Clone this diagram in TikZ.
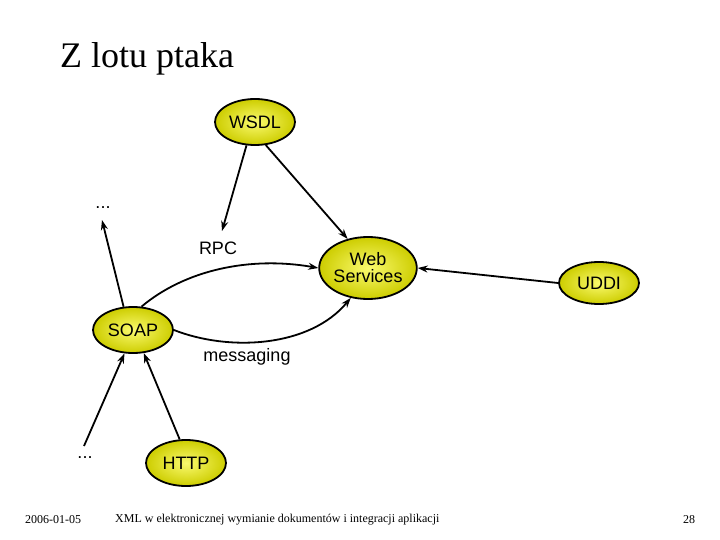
\documentclass[tikz,border=0pt]{standalone}
\usepackage{fontspec}
\setmainfont{Liberation Serif}
\setsansfont{Liberation Sans}
\usetikzlibrary{shapes.geometric,arrows.meta}
\tikzset{
  ell/.style={ellipse,draw=black,line width=1.8pt,inner sep=0pt,
    inner color={rgb,255:red,250;green,250;blue,110},
    outer color={rgb,255:red,205;green,205;blue,0},
    font=\sffamily\fontsize{18}{19}\selectfont,align=center},
  lbl/.style={font=\sffamily\fontsize{18}{19}\selectfont,inner sep=1pt},
  con/.style={line width=1.8pt,-{Stealth[length=10pt,width=7pt]}},
  foot/.style={font=\fontsize{12}{14}\selectfont,anchor=west,inner sep=0pt}
}
\begin{document}
\begin{tikzpicture}[x=1pt,y=-1pt]
\useasboundingbox (0,0) rectangle (720,540);
\node[font=\fontsize{36}{40}\selectfont,anchor=west,inner sep=0pt] (title) at (60,59) {Z lotu ptaka};

\node[ell,minimum width=80pt,minimum height=46pt] (wsdl) at (255,122) {WSDL};
\node[ell,minimum width=96pt,minimum height=62pt] (ws) at (368,268) {Web\\[-2pt]Services};
\node[ell,minimum width=80pt,minimum height=42pt] (uddi) at (599,283) {UDDI};
\node[ell,minimum width=80pt,minimum height=46pt] (soap) at (133,330) {SOAP};
\node[ell,minimum width=80pt,minimum height=46pt] (http) at (186,463) {HTTP};

\node[lbl] (rpc) at (218,248) {RPC};
\node[lbl] (msg) at (247,357) {messaging};
\node[lbl] (dots1) at (103,208) {...};
\node[lbl] (dots2) at (85,458) {...};

\coordinate (d1) at (102,220);
\coordinate (d2) at (84,446);
\coordinate (rpct) at (222,231);

\draw[con] (wsdl.250) -- (rpct);
\draw[con] (wsdl.295) -- (ws.125);
\draw[con] (uddi.west) -- (ws.east);
\draw[con] (soap.112) -- (d1);
\draw[con] (soap.70) .. controls (185,270) and (250,256) .. (ws.west);
\draw[con] (soap.east) .. controls (230,352) and (310,347) .. (ws.240);
\draw[con] (d2) -- (soap.250);
\draw[con] (http.105) -- (soap.295);

\node[foot] (date) at (25,520) {2006-01-05};
\node[foot] (ftitle) at (115,520) {XML w elektronicznej wymianie dokumentów i integracji aplikacji};
\node[foot] (page) at (683,520) {28};
\end{tikzpicture}
\end{document}
